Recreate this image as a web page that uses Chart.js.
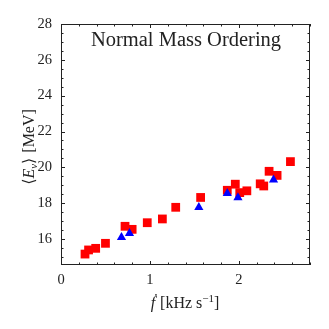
<!DOCTYPE html>
<html>
<head>
<meta charset="utf-8">
<script src="https://cdn.jsdelivr.net/npm/chart.js@4.4.1/dist/chart.umd.min.js"></script>
<style>
  html, body { margin: 0; padding: 0; background: #fff; }
  #wrap { width: 329px; height: 329px; }
</style>
</head>
<body>
<div id="wrap"><canvas id="chart" width="329" height="329"></canvas></div>
<script>
// values
const redX = [0.27, 0.31, 0.39, 0.50, 0.72, 0.80, 0.97, 1.14, 1.29, 1.57, 1.87, 1.96, 2.01, 2.09, 2.24, 2.28, 2.34, 2.43, 2.58];
const redY = [15.16, 15.39, 15.48, 15.76, 16.71, 16.54, 16.91, 17.12, 17.77, 18.32, 18.72, 19.06, 18.59, 18.69, 19.08, 18.96, 19.78, 19.55, 20.32];
const blueX = [0.68, 0.77, 1.55, 1.87, 1.99, 2.39];
const blueY = [16.09, 16.32, 17.77, 18.55, 18.31, 19.30];

const xTicks = [0, 1, 2];
const yTicks = [16, 18, 20, 22, 24, 26, 28];
const xMinorStep = 0.2;
const yMinorStep = 0.5;
const titleText = 'Normal Mass Ordering';

const serif = '"Liberation Serif", "DejaVu Serif", serif';
const toPoints = (xs, ys) => xs.map((x, i) => ({ x, y: ys[i] }));

// draws a line of text made of pieces with their own font / baseline shift
function drawPieces(ctx, pieces, x, y) {
  let total = 0;
  pieces.forEach(p => { ctx.font = p.font; total += ctx.measureText(p.text).width + (p.gap || 0); });
  let cx = x - total / 2;
  pieces.forEach(p => {
    ctx.font = p.font;
    ctx.fillText(p.text, cx, y + (p.dy || 0));
    cx += ctx.measureText(p.text).width + (p.gap || 0);
  });
}

const framePlugin = {
  id: 'frame',
  afterDraw(chart) {
    const { ctx, chartArea: a, scales } = chart;
    const xs = scales.x, ys = scales.y;
    ctx.save();
    ctx.strokeStyle = '#222';
    ctx.lineWidth = 1;
    ctx.strokeRect(a.left + 0.5, a.top + 0.5, a.right - a.left - 1, a.bottom - a.top - 1);

    ctx.beginPath();
    for (let v = xs.min; v <= xs.max + 1e-6; v += xMinorStep) {
      const px = Math.round(xs.getPixelForValue(v)) + 0.5;
      const major = Math.abs(v - Math.round(v)) < 1e-6;
      const len = major ? 4 : 2.5;
      ctx.moveTo(px, a.bottom); ctx.lineTo(px, a.bottom - len);
      ctx.moveTo(px, a.top); ctx.lineTo(px, a.top + len);
    }
    const yStart = Math.ceil(ys.min / yMinorStep) * yMinorStep;
    for (let v = yStart; v <= ys.max + 1e-6; v += yMinorStep) {
      const py = Math.round(ys.getPixelForValue(v)) + 0.5;
      const major = Math.abs(v / 2 - Math.round(v / 2)) < 1e-6;
      const len = major ? 4 : 2.5;
      ctx.moveTo(a.left, py); ctx.lineTo(a.left + len, py);
      ctx.moveTo(a.right, py); ctx.lineTo(a.right - len, py);
    }
    ctx.stroke();

    ctx.fillStyle = '#222';
    ctx.textBaseline = 'alphabetic';
    ctx.textAlign = 'left';

    // title inside the plot
    ctx.font = '20.5px ' + serif;
    const tw = ctx.measureText(titleText).width;
    ctx.fillText(titleText, 186 - tw / 2, a.top + 22);

    // x axis label
    drawPieces(ctx, [
      { text: 'ḟ', font: 'italic 16px ' + serif, gap: 5 },
      { text: '[kHz s', font: '16px ' + serif },
      { text: '−1', font: '11px ' + serif, dy: -6 },
      { text: ']', font: '16px ' + serif }
    ], 185, 308);

    // y axis label, rotated
    ctx.save();
    ctx.translate(34, 147);
    ctx.rotate(-Math.PI / 2);
    drawPieces(ctx, [
      { text: '⟨', font: '16px ' + serif },
      { text: 'E', font: 'italic 16px ' + serif },
      { text: 'ν', font: 'italic 11px ' + serif, dy: 3 },
      { text: '⟩', font: '16px ' + serif, gap: 5 },
      { text: '[MeV]', font: '16px ' + serif }
    ], 0, 0);
    ctx.restore();
    ctx.restore();
  }
};

new Chart(document.getElementById('chart'), {
  type: 'scatter',
  data: {
    datasets: [
      {
        label: 'triangles',
        data: toPoints(blueX, blueY),
        pointStyle: 'triangle',
        pointRadius: 5.3,
        backgroundColor: '#0000ff',
        borderColor: '#0000ff',
        borderWidth: 0,
        order: 0
      },
      {
        label: 'squares',
        data: toPoints(redX, redY),
        pointStyle: 'rect',
        pointRadius: 6.2,
        backgroundColor: '#ff0000',
        borderColor: '#ff0000',
        borderWidth: 0,
        order: 1
      }
    ]
  },
  options: {
    responsive: false,
    animation: false,
    layout: { padding: { left: 0, right: 19, top: 24, bottom: 0 } },
    plugins: { legend: { display: false }, tooltip: { enabled: false } },
    scales: {
      x: {
        type: 'linear',
        min: 0,
        max: 2.8,
        grid: { display: false, drawTicks: false },
        border: { display: false },
        afterBuildTicks: s => { s.ticks = xTicks.map(v => ({ value: v })); },
        afterFit: s => { s.height = 64; },
        ticks: { color: '#222', padding: 6, font: { family: serif, size: 14.5 }, maxRotation: 0 }
      },
      y: {
        type: 'linear',
        min: 14.55,
        max: 28,
        grid: { display: false, drawTicks: false },
        border: { display: false },
        afterBuildTicks: s => { s.ticks = yTicks.map(v => ({ value: v })); },
        afterFit: s => { s.width = 61; },
        ticks: { color: '#222', padding: 9, font: { family: serif, size: 14.5 } }
      }
    }
  },
  plugins: [framePlugin]
});
</script>
</body>
</html>
